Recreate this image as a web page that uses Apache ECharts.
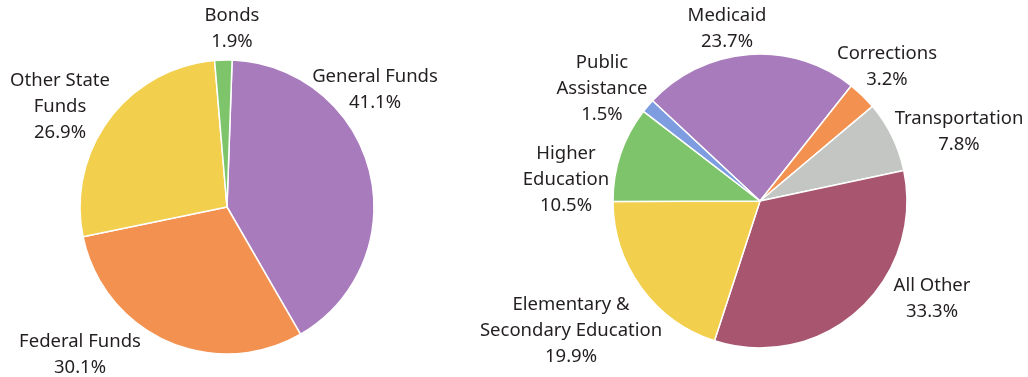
<!DOCTYPE html>
<html>
<head>
<meta charset="utf-8">
<script src="https://cdn.jsdelivr.net/npm/echarts@6/dist/echarts.min.js"></script>
<style>
  html, body { margin: 0; padding: 0; background: #fff; }
  #chart { width: 1028px; height: 377px; }
</style>
</head>
<body>
<div id="chart"></div>
<script>
// revenue sources (left pie)
var sourceNames = ["General Funds", "Federal Funds", "Other State\nFunds", "Bonds"];
var sourceValues = [41.1, 30.1, 26.9, 1.9];
var sourceColors = ["#a87bbd", "#f39250", "#f2cf4c", "#7ec46a"];

// spending (right pie)
var spendNames = ["Medicaid", "Corrections", "Transportation", "All Other",
  "Elementary &\nSecondary Education", "Higher\nEducation", "Public\nAssistance"];
var spendValues = [23.7, 3.2, 7.8, 33.3, 19.9, 10.5, 1.5];
var spendColors = ["#a87bbd", "#f39250", "#c3c6c2", "#a8566f", "#f2cf4c", "#7ec46a", "#7d9de0"];

// where each label block is centred
var labelPos = [
  [[375, 90], [80, 355], [60, 107], [232, 29]],
  [[727, 29], [887, 67], [959, 132], [932, 299], [571, 331], [566, 180], [602, 89]]
];

function toData(names, values, colors) {
  return names.map(function (n, i) {
    return { name: n, value: values[i], itemStyle: { color: colors[i] } };
  });
}

var labelStyle = {
  show: true,
  color: "#231f20",
  fontFamily: "Noto Sans",
  fontSize: 18.5,
  lineHeight: 26,
  align: "center",
  overflow: "none",
  formatter: function (p) { return p.name + "\n" + p.value + "%"; }
};

function layoutFor(s) {
  return function (p) {
    var pos = labelPos[s][p.dataIndex];
    return { x: pos[0], y: pos[1], align: "center", verticalAlign: "middle" };
  };
}

var chart = echarts.init(document.getElementById("chart"));
chart.setOption({
  animation: false,
  series: [
    {
      type: "pie",
      center: [227, 207],
      radius: 147,
      startAngle: 88,
      clockwise: true,
      itemStyle: { borderColor: "#fff", borderWidth: 1.5 },
      label: labelStyle,
      labelLine: { show: false },
      labelLayout: layoutFor(0),
      emphasis: { disabled: true },
      data: toData(sourceNames, sourceValues, sourceColors)
    },
    {
      type: "pie",
      center: [760, 201],
      radius: 147,
      startAngle: 137,
      clockwise: true,
      itemStyle: { borderColor: "#fff", borderWidth: 1.5 },
      label: labelStyle,
      labelLine: { show: false },
      labelLayout: layoutFor(1),
      emphasis: { disabled: true },
      data: toData(spendNames, spendValues, spendColors)
    }
  ]
});
</script>
</body>
</html>
